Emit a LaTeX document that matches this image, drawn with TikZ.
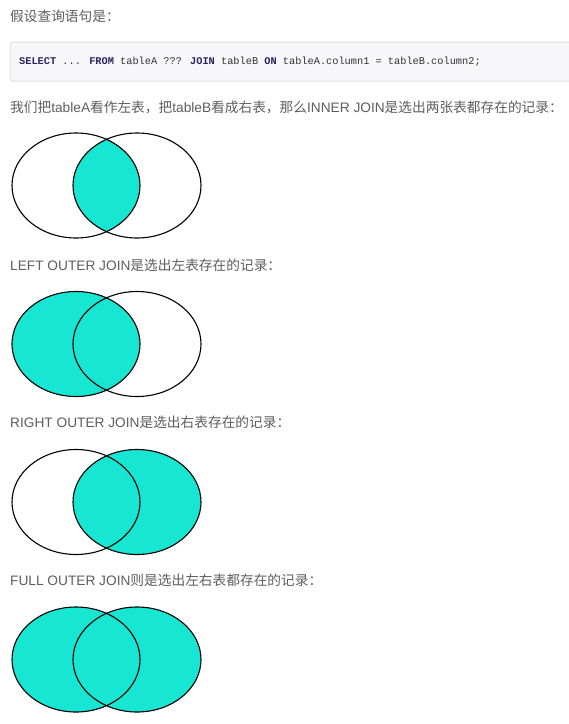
\documentclass[tikz,border=0pt]{standalone}
\usepackage{fontspec}
\setmainfont{Noto Sans CJK SC}
\newfontfamily\latinfont{Liberation Sans}
\newfontfamily\codefont{Liberation Mono}
\definecolor{txtgray}{HTML}{5E5E5E}
\definecolor{venn}{HTML}{16E6D2}
\definecolor{codebg}{HTML}{F7F7F9}
\definecolor{codeborder}{HTML}{E1E1E8}
\definecolor{kw}{HTML}{2A2260}
\definecolor{codetxt}{HTML}{333333}
\tikzset{
  para/.style={anchor=west, inner sep=0pt, text=txtgray, font=\fontsize{13.7}{16}\selectfont},
  codebox/.style={fill=codebg, draw=codeborder, line width=1pt, rounded corners=3pt},
  codeline/.style={anchor=west, inner sep=0pt, text=codetxt, font=\codefont\fontsize{10.3}{12}\selectfont},
  vennline/.style={draw=black, line width=1.1pt},
}
\newcommand{\kwd}[1]{\textcolor{kw}{\bfseries #1}}
\newcommand{\lat}[1]{{\latinfont #1}}
\begin{document}
\begin{tikzpicture}[x=1pt,y=-1pt]
\useasboundingbox (0,0) rectangle (569,724);
\fill[white] (0,0) rectangle (569,724);

\node[para] (t1) at (10,16) {假设查询语句是：};

\draw[codebox] (10,42) rectangle (590,81);
\node[codeline] (code) at (19,62) {\kwd{SELECT} ... \kwd{FROM} tableA ??? \kwd{JOIN} tableB \kwd{ON} tableA.column1 = tableB.column2;};

\node[para] (t2) at (10,107) {我们把\lat{tableA}看作左表，把\lat{tableB}看成右表，那么\lat{INNER JOIN}是选出两张表都存在的记录：};

% Diagram 1: inner
\begin{scope}
  \clip (76,185.5) ellipse [x radius=64, y radius=52.5];
  \fill[venn] (137,185.5) ellipse [x radius=64, y radius=52.5];
\end{scope}
\draw[vennline] (76,185.5) ellipse [x radius=64, y radius=52.5];
\draw[vennline] (137,185.5) ellipse [x radius=64, y radius=52.5];

\node[para] (t3) at (10,265) {\lat{LEFT OUTER JOIN}是选出左表存在的记录：};

% Diagram 2: left
\fill[venn] (76,344) ellipse [x radius=64, y radius=52.5];
\draw[vennline] (76,344) ellipse [x radius=64, y radius=52.5];
\draw[vennline] (137,344) ellipse [x radius=64, y radius=52.5];

\node[para] (t4) at (10,422) {\lat{RIGHT OUTER JOIN}是选出右表存在的记录：};

% Diagram 3: right
\fill[venn] (137,502) ellipse [x radius=64, y radius=52.5];
\draw[vennline] (76,502) ellipse [x radius=64, y radius=52.5];
\draw[vennline] (137,502) ellipse [x radius=64, y radius=52.5];

\node[para] (t5) at (10,580) {\lat{FULL OUTER JOIN}则是选出左右表都存在的记录：};

% Diagram 4: full
\fill[venn] (76,659.5) ellipse [x radius=64, y radius=52.5];
\fill[venn] (137,659.5) ellipse [x radius=64, y radius=52.5];
\draw[vennline] (76,659.5) ellipse [x radius=64, y radius=52.5];
\draw[vennline] (137,659.5) ellipse [x radius=64, y radius=52.5];
\end{tikzpicture}
\end{document}
